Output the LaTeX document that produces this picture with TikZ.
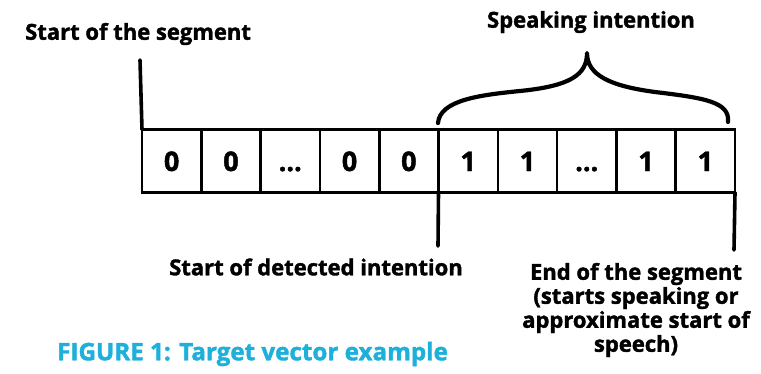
\documentclass[tikz,border=0pt]{standalone}
\usepackage{fontspec}
\setmainfont{Open Sans}[BoldFeatures={FakeBold=1.6}]
\definecolor{capblue}{RGB}{30,176,219}

\begin{document}
\begin{tikzpicture}
  [x=1pt,y=-1pt,
   cell/.style={draw,line width=2.6pt,minimum width=59.3pt,minimum height=63pt,
     inner sep=0pt,outer sep=0pt,text height=20pt,text depth=0pt,
     font=\fontsize{27}{27}\selectfont\bfseries},
   marker/.style={line width=3.6pt,line cap=round},
   lbl/.style={font=\fontsize{22}{24}\selectfont\bfseries,inner sep=0pt}]
  \useasboundingbox (0,0) rectangle (761,373);

  % the vector cells
  \node (c0) at (171.65,161) [cell] {0};
  \node (c1) at (230.95,161) [cell] {0};
  \node (c2) at (290.25,161) [cell] {...};
  \node (c3) at (349.55,161) [cell] {0};
  \node (c4) at (408.85,161) [cell] {0};
  \node (c5) at (468.15,161) [cell] {1};
  \node (c6) at (527.45,161) [cell] {1};
  \node (c7) at (586.75,161) [cell] {...};
  \node (c8) at (646.05,161) [cell] {1};
  \node (c9) at (705.35,161) [cell] {1};

  % labels
  \node (segstart) at (25,34) [lbl,anchor=west] {Start of the segment};
  \node (speak) at (591,22) [lbl] {Speaking intention};
  \node (detect) at (316,267) [lbl] {Start of detected intention};
  \node (segend) at (636,310) [lbl,align=center]
    {End of the segment\\(starts speaking or\\approximate start of\\speech)};
  \node (caption) at (57,354) [lbl,anchor=west,text=capblue,
    font=\fontsize{24.2}{24}\selectfont\bfseries] {FIGURE 1: Target vector example};

  % hand drawn markers
  \coordinate (segtop) at (140,60);
  \coordinate (intbot) at (438,246);
  \coordinate (endbot) at (734,250);
  \draw[marker] (segtop) -- (c0.north west);
  \draw[marker] (c5.south west) -- (intbot);
  \draw[marker] (c9.south east) -- (endbot);

  % brace over the ones
  \coordinate (brl) at (438,123);
  \coordinate (brtip) at (587,53);
  \coordinate (brr) at (728,122);
  \draw[marker,line width=4.2pt,line join=round]
    (brl) .. controls (440,100) and (480,95) .. (520,91)
    .. controls (570,86) and (587,75) .. (brtip)
    .. controls (587,75) and (610,86) .. (655,92)
    .. controls (705,98) and (730,102) .. (brr);
\end{tikzpicture}
\end{document}
